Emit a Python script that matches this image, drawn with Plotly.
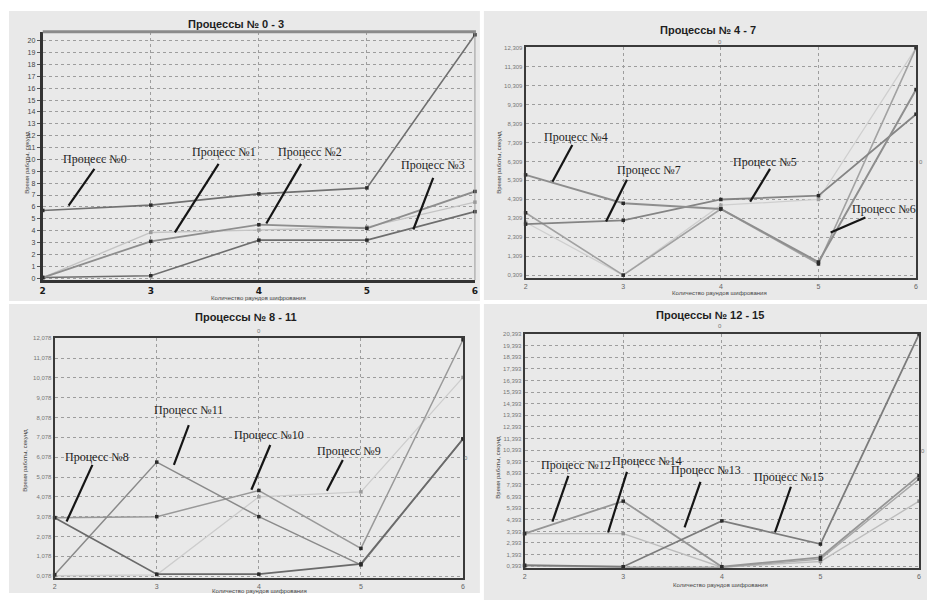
import plotly.graph_objects as go

# ---------------- data ----------------
ROUNDS = [2, 3, 4, 5, 6]

# panel 1: processes 0-3
P0 = [5.7, 6.15, 7.1, 7.6, 20.5]
P1 = [0.05, 3.1, 4.5, 4.2, 7.3]
P2 = [0.05, 3.85, 4.05, 4.3, 6.4]
P3 = [0.05, 0.2, 3.2, 3.2, 5.6]

# panel 2: processes 4-7
P4 = [5.6, 4.1, 3.8, 1.0, 10.1]
P5 = [3.0, 3.2, 4.3, 4.5, 8.8]
P6 = [3.6, 0.31, 3.8, 0.9, 12.3]
P7 = [3.1, 0.31, 4.0, 4.3, 12.3]

# panel 3: processes 8-11
P8 = [3.03, 0.18, 0.18, 0.7, 7.0]
P9 = [0.1, 0.15, 4.08, 4.33, 10.1]
P10 = [3.03, 3.08, 4.4, 1.48, 12.0]
P11 = [0.15, 5.83, 3.08, 0.65, 7.0]

# panel 4: processes 12-15
P12 = [3.2, 6.0, 0.35, 1.16, 8.2]
P13 = [0.48, 0.35, 4.3, 2.3, 20.4]
P14 = [3.2, 3.2, 0.3, 0.8, 6.0]
P15 = [0.42, 0.3, 0.3, 1.0, 7.9]

TITLES = ["Процессы № 0 - 3", "Процессы № 4 - 7", "Процессы № 8 - 11", "Процессы № 12 - 15"]
X_TITLE = "Количество раундов шифрования"
Y_TITLE = "Время работы, секунд"

Y1_VALS = list(range(0, 21))
Y1_TEXT = [str(v) for v in Y1_VALS]
Y2_VALS = [0.309 + i for i in range(13)]
Y2_TEXT = [f"{i},309" for i in range(13)]
Y3_VALS = [0.078 + i for i in range(13)]
Y3_TEXT = [f"{i},078" for i in range(13)]
Y4_VALS = [0.393 + i for i in range(21)]
Y4_TEXT = [f"{i},393" for i in range(21)]

LABELS1 = ["Процесс №0", "Процесс №1", "Процесс №2", "Процесс №3"]
LABELS2 = ["Процесс №4", "Процесс №7", "Процесс №5", "Процесс №6"]
LABELS3 = ["Процесс №8", "Процесс №11", "Процесс №10", "Процесс №9"]
LABELS4 = ["Процесс №12", "Процесс №14", "Процесс №13", "Процесс №15"]

# ---------------- helpers ----------------
W, H = 930, 601


def px(x):
    return x / W


def py(y):
    return 1 - y / H


fig = go.Figure()

PANEL_BG = "#e9e9e9"


def add_series(vals, xa, ya, color, width=1.6, mcolor="#2a2a2a"):
    fig.add_trace(go.Scatter(
        x=ROUNDS, y=vals, xaxis=xa, yaxis=ya, mode="lines+markers",
        line=dict(color=color, width=width),
        marker=dict(symbol="square", size=3.5, color=mcolor),
        cliponaxis=False, showlegend=False, hoverinfo="x+y"))


# panel 1
add_series(P2, "x", "y", "#c4c4c4", 1.4, "#9a9a9a")
add_series(P3, "x", "y", "#6e6e6e", 1.6)
add_series(P1, "x", "y", "#8e8e8e", 1.8)
add_series(P0, "x", "y", "#707070", 1.6)
# panel 2
add_series(P7, "x2", "y2", "#cfcfcf", 1.3, "#a0a0a0")
add_series(P6, "x2", "y2", "#a2a2a2", 1.6)
add_series(P5, "x2", "y2", "#848484", 1.8)
add_series(P4, "x2", "y2", "#8e8e8e", 2.0)
# panel 3
add_series(P9, "x3", "y3", "#cdcdcd", 1.3, "#9a9a9a")
add_series(P10, "x3", "y3", "#999999", 1.5)
add_series(P11, "x3", "y3", "#8a8a8a", 1.5)
add_series(P8, "x3", "y3", "#6a6a6a", 1.7)
# panel 4
add_series(P14, "x4", "y4", "#bdbdbd", 1.4, "#8f8f8f")
add_series(P15, "x4", "y4", "#a8a8a8", 1.4)
add_series(P12, "x4", "y4", "#969696", 1.8)
add_series(P13, "x4", "y4", "#7c7c7c", 1.8)

grid = dict(showgrid=True, gridcolor="#9d9d9d", griddash="dot", gridwidth=1, zeroline=False)

fig.update_layout(
    width=W, height=H,
    margin=dict(l=0, r=0, t=0, b=0),
    paper_bgcolor="white",
    plot_bgcolor=PANEL_BG,
    showlegend=False,
    # panel 1
    xaxis=dict(domain=[px(40), px(475)], anchor="y", range=[2, 6],
               tickvals=ROUNDS, ticks="",
               tickfont=dict(family="DejaVu Sans", size=9, color="#1a1a1a", weight="bold"),
               showline=True, linecolor="#333333", linewidth=3, **grid),
    yaxis=dict(domain=[py(279), py(29)], anchor="x", range=[-0.17, 20.75],
               tickvals=Y1_VALS, ticktext=Y1_TEXT, ticks="outside", ticklen=3, tickcolor="#555",
               tickfont=dict(family="Liberation Sans", size=7, color="#444"),
               showline=True, linecolor="#333333", linewidth=3, **grid),
    # panel 2
    xaxis2=dict(domain=[px(526), px(919)], anchor="y2", range=[2, 6],
                tickvals=ROUNDS, ticks="",
                tickfont=dict(family="Liberation Sans", size=7, color="#666"),
                showline=True, mirror=True, linecolor="#3a3a3a", linewidth=2, **grid),
    yaxis2=dict(domain=[py(277), py(44)], anchor="x2", range=[0.15, 12.36],
                tickvals=Y2_VALS, ticktext=Y2_TEXT, ticks="",
                tickfont=dict(family="Liberation Sans", size=6, color="#777"),
                showline=True, mirror=True, linecolor="#3a3a3a", linewidth=2, **grid),
    # panel 3
    xaxis3=dict(domain=[px(52), px(463)], anchor="y3", range=[2, 6],
                tickvals=ROUNDS, ticks="",
                tickfont=dict(family="Liberation Sans", size=7, color="#666"),
                showline=True, mirror=True, linecolor="#3a3a3a", linewidth=2, **grid),
    yaxis3=dict(domain=[py(579), py(337)], anchor="x3", range=[-0.02, 12.1],
                tickvals=Y3_VALS, ticktext=Y3_TEXT, ticks="",
                tickfont=dict(family="Liberation Sans", size=6, color="#777"),
                showline=True, mirror=True, linecolor="#3a3a3a", linewidth=2, **grid),
    # panel 4
    xaxis4=dict(domain=[px(525), px(922)], anchor="y4", range=[2, 6],
                tickvals=ROUNDS, ticks="",
                tickfont=dict(family="Liberation Sans", size=7, color="#666"),
                showline=True, mirror=True, linecolor="#3a3a3a", linewidth=2, **grid),
    yaxis4=dict(domain=[py(569), py(333)], anchor="x4", range=[0.22, 20.42],
                tickvals=Y4_VALS, ticktext=Y4_TEXT, ticks="",
                tickfont=dict(family="Liberation Sans", size=6, color="#777"),
                showline=True, mirror=True, linecolor="#3a3a3a", linewidth=2, **grid),
)

shapes = []
# panel backgrounds
for (x0, y0, x1, y1) in [(6, 8, 480, 300), (484, 8, 930, 299), (6, 303, 480, 594), (484, 303, 930, 601)]:
    shapes.append(dict(type="rect", xref="paper", yref="paper", x0=px(x0), x1=px(x1),
                       y0=py(y1), y1=py(y0), fillcolor=PANEL_BG, line=dict(width=0), layer="below"))
# panel 1 top and right borders
shapes.append(dict(type="line", xref="paper", yref="paper", x0=px(40), x1=px(476), y0=py(29), y1=py(29),
                   line=dict(color="#8a8a8a", width=3)))
shapes.append(dict(type="line", xref="paper", yref="paper", x0=px(475), x1=px(475), y0=py(279), y1=py(29),
                   line=dict(color="#9a9a9a", width=1)))

# pointer strokes (from near label to curve), pixel coords
STROKES = [
    (92, 167, 66, 204), (217, 162, 173, 231), (300, 162, 265, 222), (433, 176, 413, 228),
    (573, 143, 553, 180), (628, 178, 607, 220), (772, 167, 752, 200), (868, 216, 833, 231),
    (90, 465, 64, 522), (187, 425, 172, 465), (269, 445, 250, 490), (342, 460, 326, 491),
    (569, 476, 553, 522), (628, 472, 609, 533), (702, 482, 686, 528), (793, 487, 777, 533),
]
for (x0, y0, x1, y1) in STROKES:
    shapes.append(dict(type="line", xref="paper", yref="paper", x0=px(x0), y0=py(y0), x1=px(x1), y1=py(y1),
                       line=dict(color="#151515", width=2.2)))
fig.update_layout(shapes=shapes)

ann = []


def text(x, y, s, size=11, color="#222", family="Liberation Sans", weight="normal", angle=0):
    ann.append(dict(x=px(x), y=py(y), xref="paper", yref="paper", text=s, showarrow=False,
                    xanchor="center", yanchor="middle", textangle=angle,
                    font=dict(family=family, size=size, color=color, weight=weight)))


# titles
for (x, y), t in zip([(235, 21), (710, 27), (245, 316), (712, 314)], TITLES):
    text(x, y, t, size=11, color="#1e1e1e", family="Liberation Sans", weight="bold")
# axis titles
for (x, y) in [(257, 297), (721, 292), (258, 592), (722, 586)]:
    text(x, y, X_TITLE, size=6, color="#444")
for (x, y) in [(24, 160), (499, 160), (22, 460), (498, 467)]:
    text(x, y, Y_TITLE, size=6, color="#444", angle=-90)

# process labels (serif)
LABEL_POS = [
    ((93, 157), (222, 150), (309, 150), (433, 163)),
    ((577, 135), (650, 168), (767, 160), (887, 207)),
    ((95, 457), (187, 410), (268, 435), (348, 451)),
    ((577, 465), (648, 461), (708, 470), (791, 477)),
]
for pos_set, lab_set in zip(LABEL_POS, [LABELS1, LABELS2, LABELS3, LABELS4]):
    for (x, y), lab in zip(pos_set, lab_set):
        text(x, y, lab, size=12, color="#222222", family="Liberation Serif")

# small stray "0" marks
for (x, y) in [(722, 39), (924, 160), (258, 330), (466, 458), (722, 325), (926, 451)]:
    text(x, y, "0", size=6, color="#777")

fig.update_layout(annotations=ann)

fig.write_html(
    "out.html",
    config={"displayModeBar": False},
    post_script="document.body.style.margin='0';document.body.style.overflow='hidden';",
)
